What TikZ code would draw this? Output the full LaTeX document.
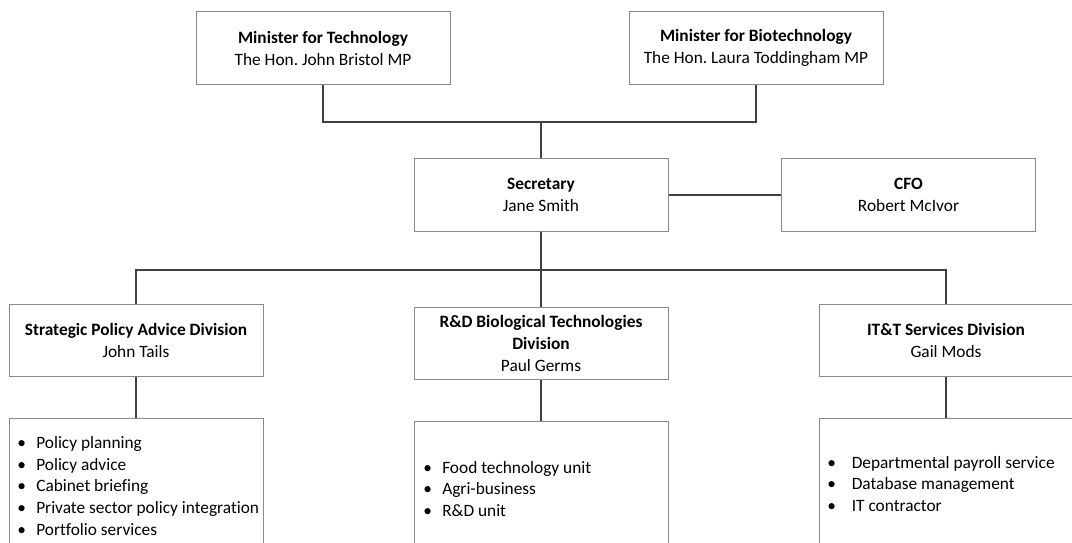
\documentclass[tikz,border=0pt]{standalone}
\usepackage{fontspec}
\setmainfont{Carlito}[Ligatures=NoCommon]
\definecolor{boxline}{HTML}{8A8A8A}
\definecolor{conn}{HTML}{404040}
\newcommand\itembul[1]{\makebox[#1][l]{\textbullet}}
\frenchspacing
\begin{document}
\frenchspacing
\begin{tikzpicture}[x=0.75pt,y=-0.75pt,
  box/.style={draw=boxline, line width=0.75pt, fill=white, minimum width=190.5pt,
    minimum height=54.4pt, inner sep=0pt, align=center,
    font=\fontsize{13pt}{16.5pt}\selectfont},
  listbox/.style={draw=boxline, line width=0.75pt, fill=white, minimum width=190.5pt,
    minimum height=120pt, inner sep=0pt, anchor=north},
  items/.style={inner sep=0pt, anchor=base west, align=left,
    font=\fontsize{13pt}{16.2pt}\selectfont},
  link/.style={draw=conn, line width=1.3pt}]
\useasboundingbox (0,0) rectangle (1072,543);
\clip (0,0) rectangle (1072,543);
\fill[white] (0,0) rectangle (1072,543);

% top row
\node[box] (mt) at (323,48) {\textbf{Minister for Technology}\\The Hon. John Bristol MP};
\node[box] (mb) at (756,48) {\textbf{Minister for Biotechnology}\\The Hon. Laura Toddingham MP};
% second row
\node[box] (sec) at (541,195) {\textbf{Secretary}\\Jane Smith};
\node[box] (cfo) at (908.5,195) {\textbf{CFO}\\Robert McIvor};
% divisions
\node[box] (spa) at (136,340.5) {\textbf{Strategic Policy Advice Division}\\John Tails};
\node[box] (rd) at (541,343.5) {\textbf{R\&D Biological Technologies}\\\textbf{Division}\\Paul Germs};
\node[box] (it) at (946,340.5) {\textbf{IT\&T Services Division}\\Gail Mods};
% function boxes
\node[listbox] (spal) at (136,418) {};
\node[listbox] (rdl) at (541,421) {};
\node[listbox] (itl) at (946,418) {};

% anchor base = baseline of the last line
\node[items] (spai) at (17,535) {\itembul{14.25pt}Policy planning\\\itembul{14.25pt}Policy advice\\\itembul{14.25pt}Cabinet briefing\\\itembul{14.25pt}Private sector policy integration\\\itembul{14.25pt}Portfolio services};
\node[items] (rdi) at (423,516.5) {\itembul{14.25pt}Food technology unit\\\itembul{14.25pt}Agri-business\\\itembul{14.25pt}R\&D unit};
\node[items] (iti) at (827,511.5) {\itembul{18.4pt}Departmental payroll service\\\itembul{18.4pt}Database management\\\itembul{18.4pt}IT contractor};

% connectors
\coordinate (j1) at (541,122);
\coordinate (j2) at (541,270);
\draw[link] (mt.south) |- (j1) -| (mb.south);
\draw[link] (j1) -- (sec.north);
\draw[link] (sec.east) -- (cfo.west);
\draw[link] (sec.south) -- (j2);
\draw[link] (spa.north) |- (j2) -| (it.north);
\draw[link] (j2) -- (rd.north);
\draw[link] (spa.south) -- (spal.north);
\draw[link] (rd.south) -- (rdl.north);
\draw[link] (it.south) -- (itl.north);
\end{tikzpicture}
\end{document}
